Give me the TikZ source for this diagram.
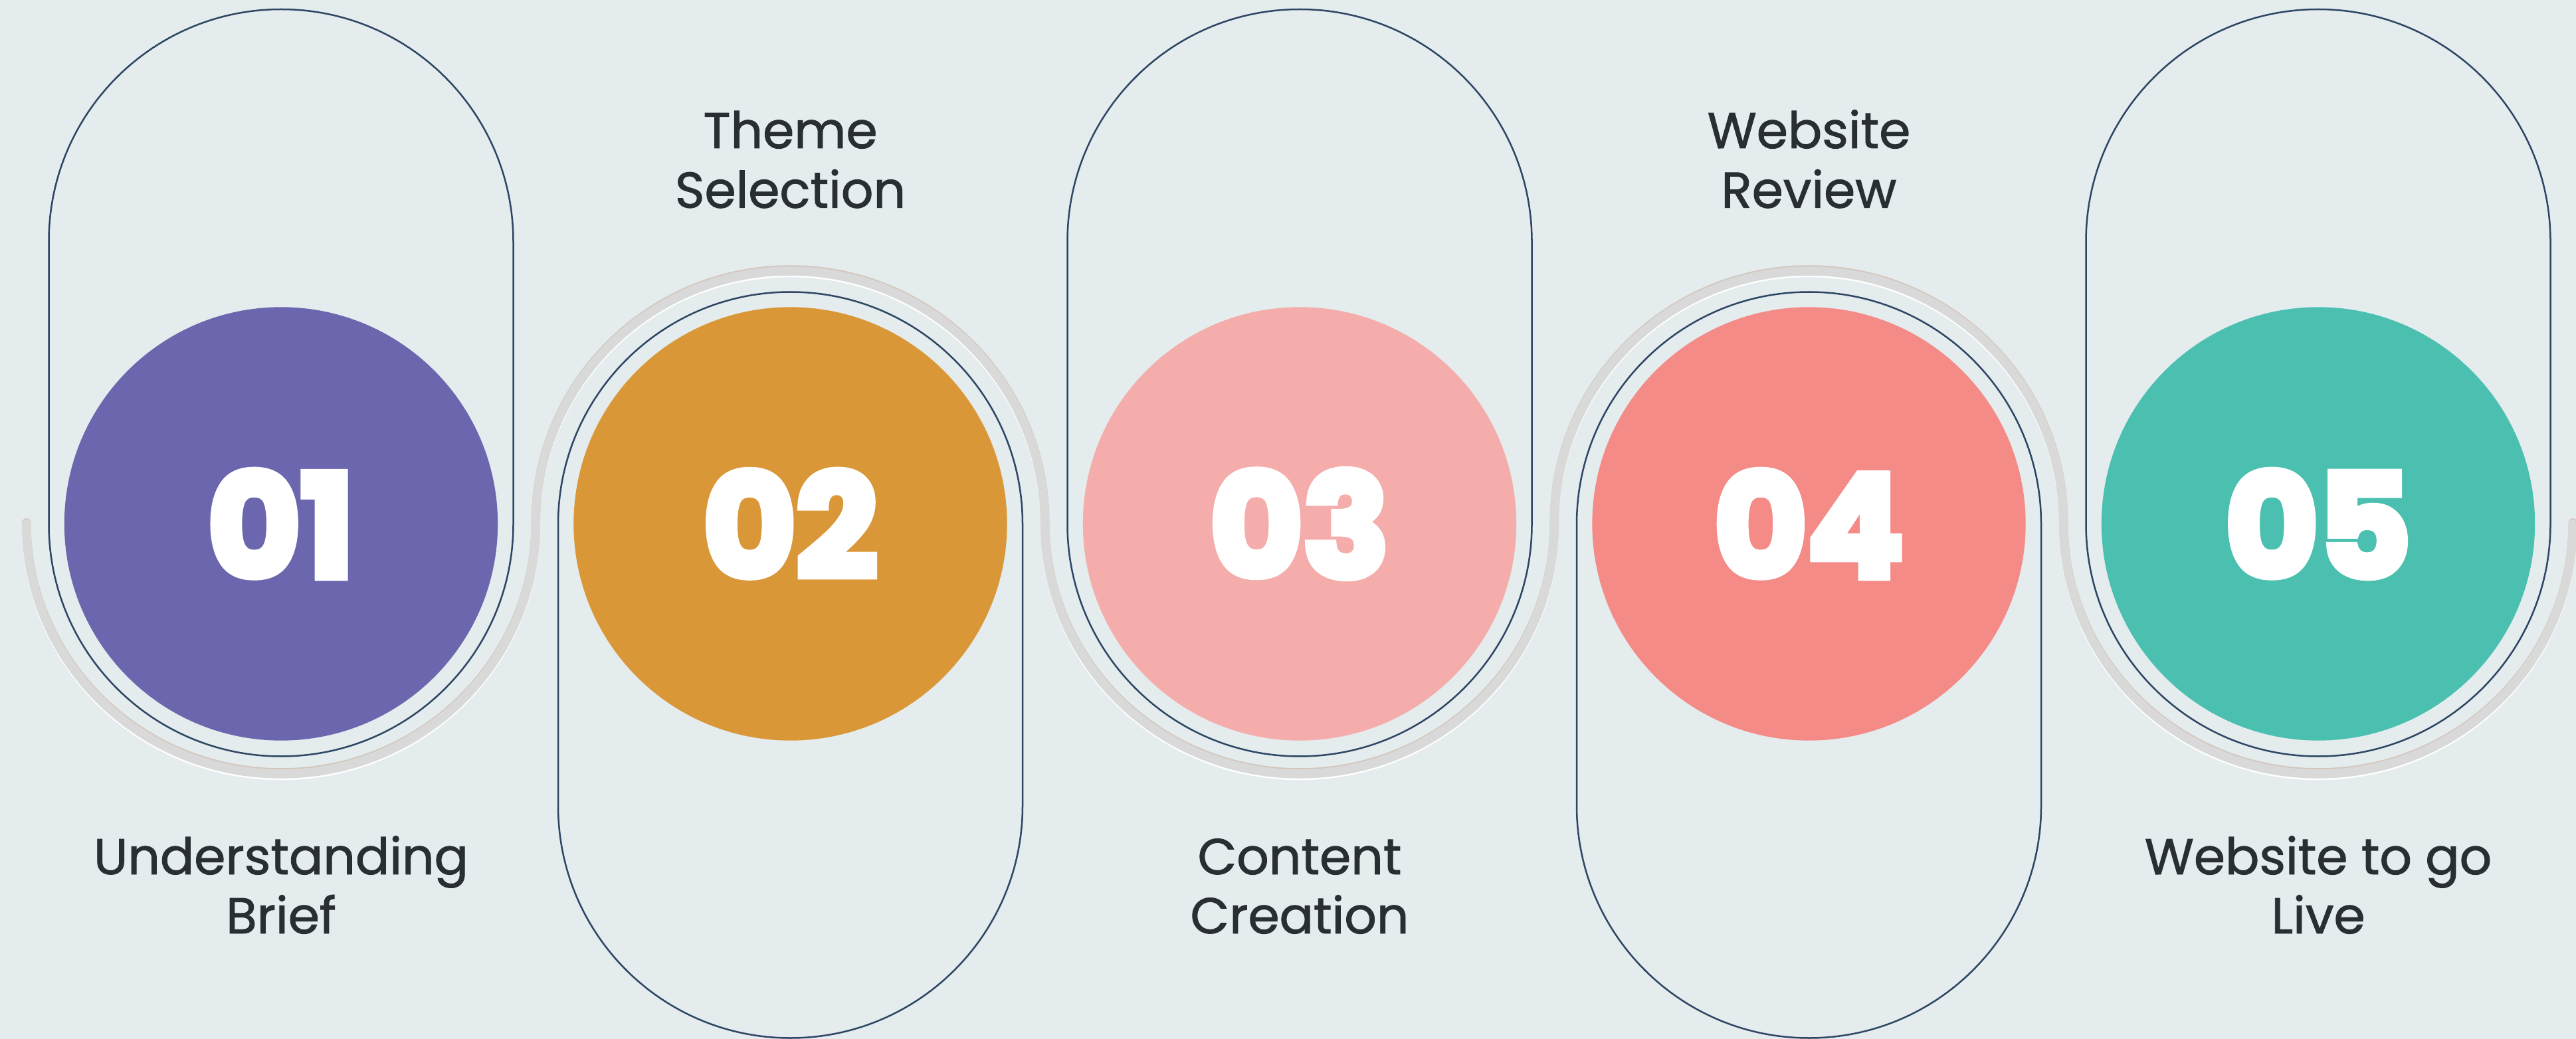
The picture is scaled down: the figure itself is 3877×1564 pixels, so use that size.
\documentclass[tikz,border=0pt]{standalone}
\usepackage{fontspec}
\setmainfont{Poppins}
\newfontfamily\lblfont{Poppins}[FakeBold=1.2]
\newfontfamily\numfont{Poppins}[FakeBold=5.5]
\definecolor{bg}{HTML}{E4ECEE}
\definecolor{navy}{HTML}{2E4664}
\definecolor{band}{HTML}{D9D9D9}
\definecolor{bandtop}{HTML}{D3C7BD}
\definecolor{txt}{HTML}{292E32}
\definecolor{cA}{HTML}{6C66AE}
\definecolor{cB}{HTML}{DA9738}
\definecolor{cC}{HTML}{F4ADAA}
\definecolor{cD}{HTML}{F48B87}
\definecolor{cE}{HTML}{4BC0B0}
\tikzset{
  capsule/.style={draw=navy, line width=0.025cm},
  track/.style={line width=0.135cm, line cap=round},
  stepcircle/.style={circle, inner sep=0pt, minimum size=6.52cm, text=white,
    font={\numfont\bfseries\fontsize{61}{64}\selectfont}},
  lbl/.style={anchor=base, inner sep=0pt, text=txt,
    font={\lblfont\fontsize{21.6}{26}\selectfont}}
}
\newcommand{\trackpath}{%
  (39.75,789) arc[start angle=180, end angle=0, x radius=383.25, y radius=376]
  arc[start angle=180, end angle=360, x radius=383.25, y radius=381]
  arc[start angle=180, end angle=0, x radius=383.25, y radius=376]
  arc[start angle=180, end angle=360, x radius=383.25, y radius=381]
  arc[start angle=180, end angle=0, x radius=383.25, y radius=376]}
\begin{document}
\begin{tikzpicture}[x=0.01cm, y=-0.01cm]
\fill[bg] (0,0) rectangle (3877,1564);
\useasboundingbox (0,0) rectangle (3877,1564);
% track with highlight and edge
\begin{scope}[shift={(0,2.5)}]
  \draw[track, white] \trackpath;
\end{scope}
\begin{scope}[shift={(0,-2)}]
  \draw[track, bandtop] \trackpath;
\end{scope}
\draw[track, band] \trackpath;
% capsules opening up (1,3,5)
\foreach \cx in {423, 1956, 3489} {
  \draw[capsule] (\cx-349.5,789) -- (\cx-349.5,363.5)
    arc[start angle=180, end angle=360, radius=349.5]
    -- (\cx+349.5,789)
    arc[start angle=0, end angle=180, radius=349.5] -- cycle;
}
% capsules opening down (2,4)
\foreach \cx in {1189.5, 2722.5} {
  \draw[capsule] (\cx-349.5,789)
    arc[start angle=180, end angle=360, radius=349.5]
    -- (\cx+349.5,1213)
    arc[start angle=0, end angle=180, radius=349.5] -- cycle;
}
% circles
\node[stepcircle, fill=cA] (s1) at (423,788.5) {01};
\node[stepcircle, fill=cB] (s2) at (1189.5,788.5) {02};
\node[stepcircle, fill=cC] (s3) at (1956,788.5) {03};
\node[stepcircle, fill=cD] (s4) at (2722.5,788.5) {04};
\node[stepcircle, fill=cE] (s5) at (3489,788.5) {05};
% labels
\node[lbl] (l1a) at (423,1316) {Understanding};
\node[lbl] (l1b) at (423,1405) {Brief};
\node[lbl] (l2a) at (1189.5,223) {Theme};
\node[lbl] (l2b) at (1189.5,312.7) {Selection};
\node[lbl] (l3a) at (1956,1316) {Content};
\node[lbl] (l3b) at (1956,1405) {Creation};
\node[lbl] (l4a) at (2722.5,223) {Website};
\node[lbl] (l4b) at (2722.5,312.7) {Review};
\node[lbl] (l5a) at (3489,1316) {Website to go};
\node[lbl] (l5b) at (3489,1405) {Live};
\end{tikzpicture}
\end{document}
